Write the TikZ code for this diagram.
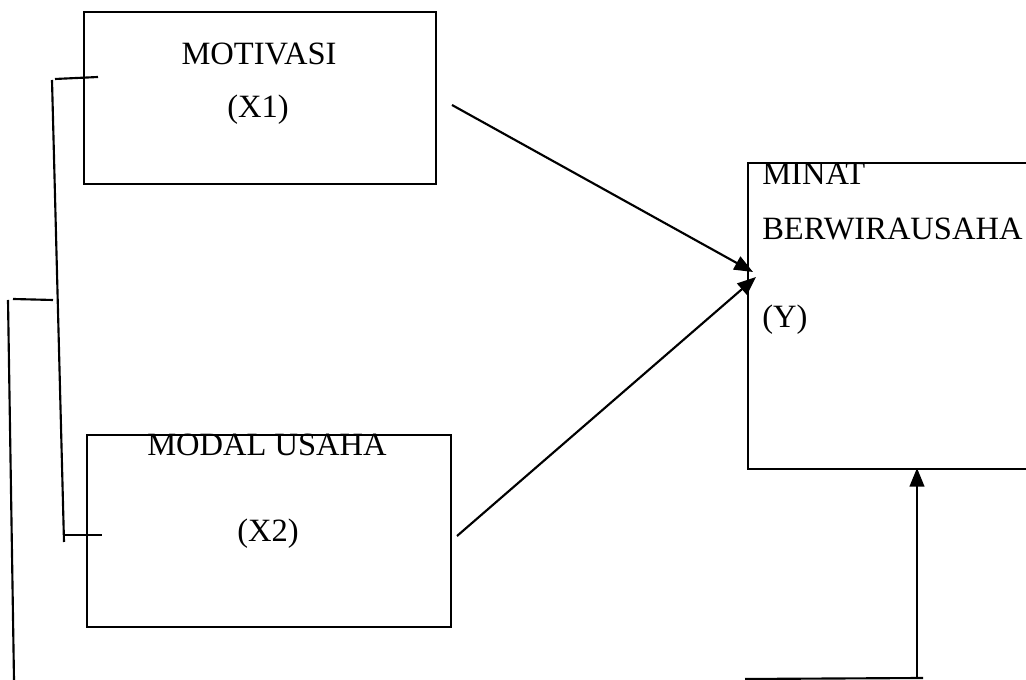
\documentclass[tikz,border=0pt]{standalone}
\usepackage{fontspec}
\setmainfont{Liberation Serif}
\usetikzlibrary{arrows.meta}
\begin{document}
\begin{tikzpicture}[x=0.75pt,y=-0.75pt,
  box/.style={draw, line width=1.4pt, inner sep=0pt, anchor=north west},
  lbl/.style={font=\fontsize{24.4}{28}\selectfont, inner sep=0pt},
  ln/.style={line width=1.6pt},
  arr/.style={-{Triangle[length=14pt,width=11pt]}, line width=1.6pt}]
\useasboundingbox (0,0) rectangle (1026,680);
% boxes
\node[box, minimum width=264pt, minimum height=129pt] (x1) at (83,11) {};
\node[box, minimum width=273pt, minimum height=144pt] (x2) at (86,434) {};
\node[box, minimum width=225pt, minimum height=229.5pt] (y) at (747,162) {};
% labels
\node[lbl, anchor=base] (t1a) at (259,65) {MOTIVASI};
\node[lbl, anchor=base] (t1b) at (258,118) {(X1)};
\node[lbl, anchor=base] (t2a) at (267,456) {MODAL USAHA};
\node[lbl, anchor=base] (t2b) at (268,542) {(X2)};
\node[lbl, anchor=base west] (tya) at (762,185) {MINAT};
\node[lbl, anchor=base west] (tyb) at (762,240) {BERWIRAUSAHA};
\node[lbl, anchor=base west] (tyc) at (762,328) {(Y)};
% arrow end points
\coordinate (a1s) at (452,105);
\coordinate (a1e) at (753,272);
\coordinate (a2s) at (457,536);
\coordinate (a2e) at (756,277);
\coordinate (a3s) at (917,678);
\coordinate (a3e) at (917,468);
\draw[arr] (a1s) -- (a1e);
\draw[arr] (a2s) -- (a2e);
\draw[arr] (a3s) -- (a3e);
% bottom line
\coordinate (b1) at (745,679);
\coordinate (b2) at (923,678);
\draw[ln] (b1) -- (b2);
% left brackets
\coordinate (k1) at (55,79);
\coordinate (k2) at (98,77);
\coordinate (k3) at (52,80);
\coordinate (k4) at (64,542);
\coordinate (k5) at (64,535);
\coordinate (k6) at (102,535);
\draw[ln] (k1) -- (k2);
\draw[ln] (k3) -- (k4);
\draw[ln] (k5) -- (k6);
\coordinate (m1) at (13,299);
\coordinate (m2) at (53,300);
\coordinate (m3) at (8,300);
\coordinate (m4) at (14,680);
\draw[ln] (m1) -- (m2);
\draw[ln] (m3) -- (m4);
\end{tikzpicture}
\end{document}
